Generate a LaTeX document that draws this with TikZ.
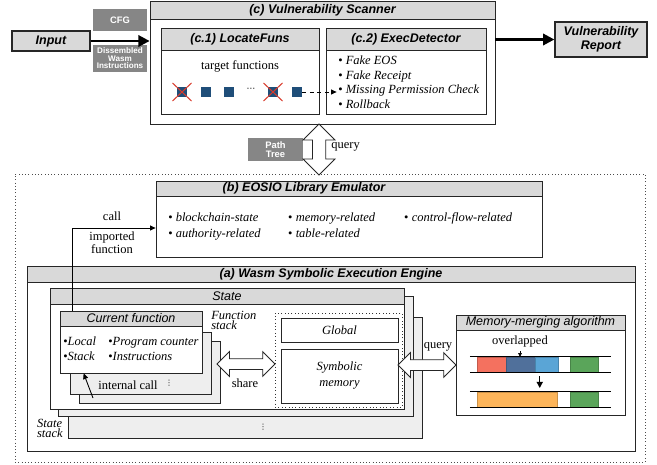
\documentclass[tikz,border=0pt]{standalone}
\usepackage{fontspec}
\setmainfont{Liberation Serif}
\setsansfont{Liberation Sans}
\newfontfamily\dotsfont{DejaVu Sans}
\usetikzlibrary{positioning}
\usetikzlibrary{arrows.meta}
\usetikzlibrary{shapes.arrows}
\usetikzlibrary{calc}
\usetikzlibrary{fit}
\definecolor{pBar}{HTML}{D9D9D9}
\definecolor{pTag}{HTML}{868686}
\definecolor{pLayer}{HTML}{EEEEEE}
\definecolor{pFun}{HTML}{1F4E79}
\definecolor{pCross}{HTML}{D93A2B}
\definecolor{pRed}{HTML}{F4715F}
\definecolor{pNavy}{HTML}{50709B}
\definecolor{pSky}{HTML}{5AA5D6}
\definecolor{pLeaf}{HTML}{5AA55A}
\definecolor{pOrange}{HTML}{FDB55A}

\tikzset{
  box/.style={draw=black!85, line width=0.6pt, fill=white, inner sep=0pt},
  layer/.style={box, fill=pLayer},
  bar/.style={box, fill=pBar},
  heavy/.style={font=\sffamily\bfseries\itshape, inner sep=0pt, align=center},
  light/.style={font=\sffamily\itshape, inner sep=0pt},
  inbox/.style={box, fill=pBar, line width=1pt},
  tag/.style={fill=pTag, inner sep=0pt},
  tagtext/.style={text=white, inner sep=0pt, align=center, font=\sffamily\bfseries\fontsize{7.5}{7}\selectfont},
  hollow/.style={double arrow, draw=black!85, line width=0.6pt, fill=white, inner xsep=0pt},
  items/.style={inner sep=0pt, align=left, font=\fontsize{10}{11.6}\selectfont},
  stacklbl/.style={inner sep=0pt, align=left, font=\itshape\fontsize{10}{8}\selectfont},
  vdot/.style={inner sep=0pt, font=\dotsfont\fontsize{6}{6}\selectfont},
  thickarrow/.style={line width=2pt, -{Triangle[length=9pt,width=9pt]}},
  thinarrow/.style={line width=0.7pt, -{Triangle[length=4.5pt,width=4pt]}},
  func/.style={fill=pFun, minimum size=8pt, inner sep=0pt},
  cross/.style={draw=pCross, line width=0.8pt},
}

\begin{document}
\begin{tikzpicture}[x=0.8pt, y=-0.8pt]
\useasboundingbox (0,0) rectangle (657,465);

% dotted frame round (a) and (b)
\node[draw=black!70, dotted, line width=0.6pt, inner sep=0pt, fit={(15,174) (645,462)}] (core) {};

% (c) scanner
\node[box, fit={(150,1) (495,124)}] (scan) {};
\node[bar, fit={(150,1) (495,19)}] (scanT) {};
\node[heavy] (scanL) at (scanT) {(c) Vulnerability Scanner};

\node[box, fit={(161,28) (319,114)}] (locate) {};
\node[bar, fit={(161,28) (319,50)}] (locateT) {};
\node[heavy] (locateL) at (locateT) {(c.1) LocateFuns};
\node (targets) at (240,66) {target functions};
\foreach \x/\n in {182/1, 206/2, 229/3, 273/4, 297/5}
  \node[func] (f\n) at (\x,92) {};
\foreach \n in {1,4}
  \draw[cross] ($(f\n)+(-9.5,-9)$) -- ($(f\n)+(9.5,9)$) ($(f\n)+(-9.5,9)$) -- ($(f\n)+(9.5,-9)$);
\node[inner sep=0pt, font=\dotsfont\fontsize{7}{7}\selectfont] (fdots) at (251,90) {⋯};

\node[box, fit={(326,28) (486,114)}] (exec) {};
\node[bar, fit={(326,28) (486,50)}] (execT) {};
\node[heavy] (execL) at (execT) {(c.2) ExecDetector};
\node[items, anchor=north west] (checks) at (338,56) {\textbullet\ \textit{Fake EOS}\\
  \textbullet\ \textit{Fake Receipt}\\
  \textbullet\ \textit{Missing Permission Check}\\
  \textbullet\ \textit{Rollback}};
\draw[dashed, thinarrow] (f5.east) -- ($(f5.east -| exec.west)+(11,0)$);

% input and output
\node[inbox, fit={(12,31) (90,51)}] (input) {};
\node[heavy] (inputL) at (input) {Input};
\node[tag, fit={(93,9) (147,31)}] (cfg) {};
\node[tagtext] (cfgL) at (cfg) {CFG};
\node[tag, fit={(93,45) (147,72)}] (wasm) {};
\node[tagtext, font=\sffamily\bfseries\fontsize{6.5}{6}\selectfont] (wasmL) at (wasm) {Dissembled\\Wasm\\Instructions};
\node[inbox, fit={(555,22) (647,57)}] (report) {};
\node[heavy, font=\sffamily\bfseries\itshape\fontsize{10}{11}\selectfont] (reportL) at (report) {Vulnerability\\Report};
\draw[thickarrow] (input.east) -- (input.east -| scan.west);
\draw[thickarrow] (scan.east |- report.west) -- (report.west);

\node[tag, fit={(248,138) (303,161)}] (ptree) {};
\node[tagtext] (ptreeL) at (ptree) {Path\\Tree};
\node[hollow, rotate=90, minimum height=40.8pt, inner ysep=5pt, double arrow head extend=7.5pt] (q1) at (319,149.5) {};
\node[anchor=west] (q1L) at (327,147) {query};

% (b) library emulator
\node[box, fit={(156,181) (542,257)}] (lib) {};
\node[bar, fit={(156,181) (542,196)}] (libT) {};
\node[heavy] (libL) at (304,188.5) {(b) EOSIO Library Emulator};
\node[inner sep=0pt, anchor=north west, font=\fontsize{10}{12.8}\selectfont] (apis) at (168,210) {%
  \begin{tabular}{@{}p{96pt}@{}p{92.8pt}@{}l@{}}
  \textbullet\ \textit{blockchain-state} & \textbullet\ \textit{memory-related} & \textbullet\ \textit{control-flow-related}\\
  \textbullet\ \textit{authority-related} & \textbullet\ \textit{table-related} &
  \end{tabular}};

\node (callL) at (112,216) {call};
\node[align=center, font=\fontsize{10}{8.5}\selectfont] (callI) at (112,243) {imported\\function};

% (a) symbolic execution engine
\node[box, fit={(27,266) (635,451)}] (engine) {};
\node[bar, fit={(27,266) (635,282)}] (engineT) {};
\node[heavy] (engineL) at (engineT) {(a) Wasm Symbolic Execution Engine};

% state stack
\node[layer, fit={(68,317) (422,438)}] (st3) {};
\node[layer, fit={(58,296) (413,416)}] (st2) {};
\node[box, fit={(50,288) (404,409)}] (state) {};
\node[bar, fit={(50,288) (404,304)}] (stateT) {};
\node[light] (stateL) at (stateT) {State};
\node[vdot] (stdots) at (263,427) {⋮};
\node[stacklbl, anchor=east] (stL) at (63,428) {State\\stack};

% function stack
\node[layer, fit={(79,341) (220,403)}] (fn3) {};
\node[layer, fit={(70,332) (211,394)}] (fn2) {};
\node[box, fit={(60,311) (202,373)}] (cur) {};
\node[bar, fit={(60,311) (202,326)}] (curT) {};
\node[light] (curL) at (curT) {Current function};
\node[inner sep=0pt, anchor=north west, font=\fontsize{10}{12}\selectfont] (frame) at (63,335) {%
  \begin{tabular}{@{}p{36pt}@{}l@{}}
  \textbullet\textit{Local} & \textbullet\textit{Program counter}\\
  \textbullet\textit{Stack} & \textbullet\textit{Instructions}
  \end{tabular}};
\node (icallL) at (128,385) {internal call};
\node[vdot] (fndots) at (169,383) {⋮};
\node[stacklbl, anchor=north west] (fnL) at (211,311) {Function\\stack};
\coordinate (icall) at (93,398);
\draw[thinarrow] (icall) -- ($(cur.south west)+(24,0)$);

% global and symbolic memory
\node[draw=black!80, dotted, line width=0.7pt, inner sep=0pt, fit={(275,313) (402,407)}] (mem) {};
\node[box, fit={(281,318) (398,342)}] (global) {};
\node[font=\itshape] (globalL) at (global) {Global};
\node[box, fit={(281,349) (398,403)}] (symmem) {};
\node[font=\itshape\fontsize{10}{12.8}\selectfont, align=center] (symmemL) at (symmem) {Symbolic\\memory};

\node[hollow, minimum height=46.4pt, inner ysep=4pt, double arrow head extend=5.6pt] (share) at (246,364) {};
\node (shareL) at (245,383) {share};
\node[hollow, minimum height=46.4pt, inner ysep=4pt, double arrow head extend=5.6pt] (q2) at (427,365) {};
\node (q2L) at (438,347) {query};

% memory merging
\node[box, fit={(456,315) (625,415)}] (merge) {};
\node[bar, fit={(456,315) (625,330)}] (mergeT) {};
\node[light] (mergeL) at (mergeT) {Memory-merging algorithm};
\node (overlap) at (520,341) {overlapped};
\node[inner sep=0pt, fit={(470,357) (611,372)}] (row1) {};
\node[inner sep=0pt, fit={(470,392) (611,407)}] (row2) {};
\foreach \a/\b/\c in {477/506/pRed, 506/535/pNavy, 535/558/pSky, 570/598/pLeaf}
  \filldraw[draw=\c!80!black, fill=\c, line width=0.4pt] (\a,357) rectangle (\b,372);
\foreach \a/\b/\c in {477/557/pOrange, 570/598/pLeaf}
  \filldraw[draw=\c!80!black, fill=\c, line width=0.4pt] (\a,392) rectangle (\b,407);
\draw[line width=0.6pt] (row1.north west) -- (row1.north east) (row1.south west) -- (row1.south east);
\draw[line width=0.6pt] (row2.north west) -- (row2.north east) (row2.south west) -- (row2.south east);
\draw[line width=0.5pt, -{Triangle[length=3pt,width=3pt]}] (overlap.south) -- (overlap.south |- row1.north);
\draw[line width=1pt, -{Triangle[length=5pt,width=5pt]}, shorten <=3pt, shorten >=3pt] ($(row1.south west)+(70,0)$) -- ($(row2.north west)+(70,0)$);

% call into the emulator
\draw[thinarrow] ($(cur.north west)+(13,0)$) |- ($(lib.west)+(0,9)$);
\end{tikzpicture}
\end{document}
